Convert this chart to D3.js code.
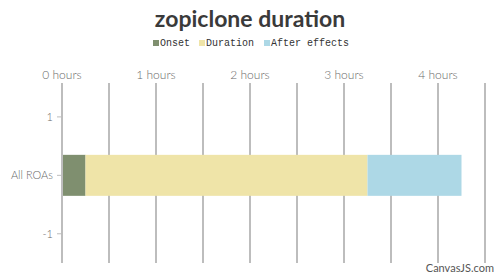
<!DOCTYPE html>
<html>
<head>
<meta charset="utf-8">
<script src="https://cdn.jsdelivr.net/npm/d3@7"></script>
<style>
  body { margin: 0; background: #fff; }
  svg { display: block; }
</style>
</head>
<body>
<div id="chart"></div>
<script>
// chart data
var title = "zopiclone duration";
var categories = ["All ROAs"];
var seriesNames = ["Onset", "Duration", "After effects"];
var seriesColors = ["#7f8f6f", "#efe4a8", "#add8e6"];
var onsetVals = [0.25];
var durationVals = [3];
var afterVals = [1];
var xTicks = [0, 1, 2, 3, 4];
var yTickVals = [1, 0, -1];

var width = 500, height = 276;
var margin = {top: 83, right: 13, bottom: 13, left: 62};

var svg = d3.select("#chart").append("svg")
    .attr("width", width)
    .attr("height", height);

var x = d3.scaleLinear()
    .domain([0, 4.5])
    .range([margin.left, 485]);

var y = d3.scaleLinear()
    .domain([-1.5, 1.58])
    .range([263, margin.top]);

// title
svg.append("text")
    .attr("x", 250)
    .attr("y", 27)
    .attr("text-anchor", "middle")
    .style("font-family", "Lato, sans-serif")
    .style("font-weight", "bold")
    .style("font-size", "23px")
    .style("fill", "#3a3a3a")
    .text(title);

// legend
var legendX = [153, 199, 264];
var legend = svg.selectAll(".legend")
    .data(seriesNames)
    .enter().append("g")
    .attr("class", "legend")
    .attr("transform", function(d, i) { return "translate(" + legendX[i] + ",40)"; });
legend.append("rect")
    .attr("width", 6).attr("height", 6)
    .attr("y", 0)
    .style("fill", function(d, i) { return seriesColors[i]; });
legend.append("text")
    .attr("x", 7)
    .attr("y", 6)
    .style("font-family", "'Liberation Mono', monospace")
    .style("font-size", "10px")
    .style("fill", "#333")
    .text(function(d) { return d; });

// vertical gridlines every half hour
var gridVals = d3.range(0.5, 4.51, 0.5);
svg.selectAll(".grid")
    .data(gridVals)
    .enter().append("line")
    .attr("class", "grid")
    .attr("x1", function(d) { return x(d); })
    .attr("x2", function(d) { return x(d); })
    .attr("y1", margin.top)
    .attr("y2", 263)
    .style("stroke", "#bdbdbd")
    .style("stroke-width", 2);

// top axis labels
svg.selectAll(".xlabel")
    .data(xTicks)
    .enter().append("text")
    .attr("class", "xlabel")
    .attr("x", function(d) { return x(d); })
    .attr("y", 79)
    .attr("text-anchor", "middle")
    .style("font-family", "Lato, sans-serif")
    .style("font-weight", 300)
    .style("font-size", "12px")
    .style("fill", "#6a6a6a")
    .text(function(d) { return d + " hours"; });

// bars (stacked)
var stacked = categories.map(function(c, i) {
    var a = onsetVals[i], b = a + durationVals[i], e = b + afterVals[i];
    return [[0, a], [a, b], [b, e]];
});
var barH = 41;
stacked.forEach(function(segs, ci) {
    svg.selectAll(".bar" + ci)
        .data(segs)
        .enter().append("rect")
        .attr("x", function(d) { return x(d[0]); })
        .attr("width", function(d) { return x(d[1]) - x(d[0]); })
        .attr("y", y(0) - barH / 2)
        .attr("height", barH)
        .style("fill", function(d, i) { return seriesColors[i]; });
});

// y axis line
svg.append("line")
    .attr("x1", x(0)).attr("x2", x(0))
    .attr("y1", margin.top).attr("y2", 263)
    .style("stroke", "#bdbdbd")
    .style("stroke-width", 2);

// y ticks + labels
svg.selectAll(".ytick")
    .data(yTickVals)
    .enter().append("line")
    .attr("x1", x(0) - 5).attr("x2", x(0))
    .attr("y1", function(d) { return y(d); })
    .attr("y2", function(d) { return y(d); })
    .style("stroke", "#bdbdbd")
    .style("stroke-width", 1);

svg.selectAll(".ylabel")
    .data(yTickVals)
    .enter().append("text")
    .attr("x", x(0) - 9)
    .attr("y", function(d) { return y(d) + 4; })
    .attr("text-anchor", "end")
    .style("font-family", "Lato, sans-serif")
    .style("font-weight", 300)
    .style("font-size", "11px")
    .style("fill", "#6a6a6a")
    .text(function(d) { return d === 0 ? categories[0] : d; });

// credit
svg.append("text")
    .attr("x", 494)
    .attr("y", 272)
    .attr("text-anchor", "end")
    .style("font-family", "Lato, sans-serif")
    .style("font-size", "11px")
    .style("fill", "#555")
    .text("CanvasJS.com");
</script>
</body>
</html>
